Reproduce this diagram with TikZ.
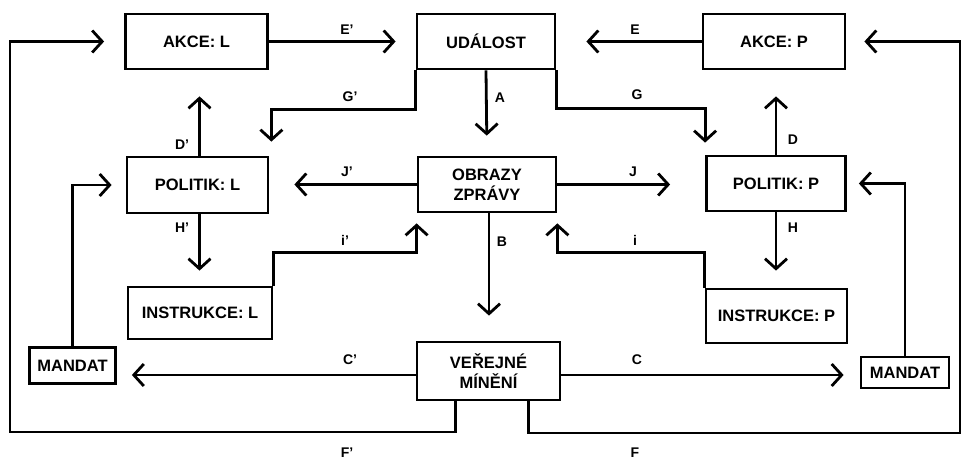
\documentclass[tikz,border=0pt]{standalone}
\usepackage{fontspec}
\setmainfont{Liberation Sans}
\usetikzlibrary{arrows.meta}

\begin{document}
\begin{tikzpicture}[x=1pt, y=-1pt, line width=2.8pt,
  box/.style={draw, minimum width=142pt, minimum height=55pt, inner sep=2pt,
    align=center, font=\bfseries\fontsize{16.5}{20}\selectfont},
  smallbox/.style={draw, inner sep=2pt, minimum width=86pt, minimum height=36pt,
    font=\bfseries\fontsize{16.5}{20}\selectfont},
  lbl/.style={font=\bfseries\fontsize{14}{16}\selectfont},
  arr/.style={-{Straight Barb[length=10pt, width=22pt, line width=2.8pt]}}]
\useasboundingbox (0,0) rectangle (962,460);

% boxes
\node[box] (akceL) at (196.5,41.5) {AKCE: L};
\node[box, minimum width=138pt] (udalost) at (486,41.5) {UDÁLOST};
\node[box] (akceP) at (774,41.5) {AKCE: P};
\node[box, minimum width=141pt, minimum height=56pt] (politikL) at (197.5,185) {POLITIK: L};
\node[box, minimum width=138pt] (obrazy) at (487,184.5) {OBRAZY\\ZPRÁVY};
\node[box, minimum width=139pt] (politikP) at (776,183.5) {POLITIK: P};
\node[box, minimum width=144pt, minimum height=52pt] (instrL) at (200,313) {INSTRUKCE: L};
\node[box, minimum width=141pt, minimum height=54pt] (instrP) at (776.5,316) {INSTRUKCE: P};
\node[box, minimum width=143pt, minimum height=58pt] (verejne) at (488.5,371) {VEŘEJNÉ\\MÍNĚNÍ};
\node[smallbox] (mandatL) at (72.5,365.5) {MANDAT};
\node[smallbox, minimum width=88pt, minimum height=31pt] (mandatP) at (905,372.5) {MANDAT};

\coordinate (railL) at (10,432);
\coordinate (railR) at (960,433);

% connectors
\draw[arr, shorten >=20pt] (akceL.east) -- (udalost.west);
\draw[arr, shorten >=30pt] (akceP.west) -- (udalost.east);
\draw[arr, shorten >=20pt] (udalost.south) -- (obrazy.north);
\draw[arr, shorten >=14pt] (udalost.south west) -- ++(0,39) -| ([xshift=2pt]politikL.north east);
\draw[arr, shorten >=12pt] (udalost.south east) -- ++(0,38) -| (politikP.north west);
\draw[arr, shorten >=26pt] ([xshift=2pt]politikL.north) -- ([xshift=2pt]politikL.north |- akceL.south);
\draw[arr, shorten >=26pt] (politikP.north) -- (politikP.north |- akceP.south);
\draw[arr, shorten >=25pt] (obrazy.west) -- (obrazy.west -| politikL.east);
\draw[arr, shorten >=35pt] (obrazy.east) -- (obrazy.east -| politikP.west);
\draw[arr, shorten >=15pt] ([xshift=2pt]politikL.south) -- ([xshift=2pt]politikL.south |- instrL.north);
\draw[arr, shorten >=17pt] (politikP.south) -- (politikP.south |- instrP.north);
\draw[arr, shorten >=10pt] (instrL.north east) -- ++(0,-33) -| (obrazy.south west);
\draw[arr, shorten >=10pt] (instrP.north west) -- ++(0,-35) -| (obrazy.south east);
\draw[arr, shorten >=25pt] ([xshift=2pt]obrazy.south) -- ([xshift=2pt]obrazy.south |- verejne.north);
\draw[arr, shorten >=15pt] ([yshift=-4pt]verejne.west) -- ([yshift=-4pt]verejne.west -| mandatL.east);
\draw[arr, shorten >=16pt] ([yshift=-4pt]verejne.east) -- ([yshift=-4pt]verejne.east -| mandatP.west);
\draw[arr, shorten >=14pt] (mandatL.north) |- (politikL.west);
\draw[arr, shorten >=12pt] (mandatP.north) |- (politikP.east);
\draw[arr, shorten >=20pt] ([xshift=-33pt]verejne.south) |- (railL) |- (akceL.west);
\draw[arr, shorten >=18pt] ([xshift=40pt]verejne.south) |- (railR) |- (akceP.east);

% labels
\node[lbl] (lEp) at (347,30) {E'};
\node[lbl] (lE) at (635,30) {E};
\node[lbl] (lGp) at (350,97) {G'};
\node[lbl] (lG) at (637,95) {G};
\node[lbl] (lA) at (500,98) {A};
\node[lbl] (lDp) at (182,145) {D'};
\node[lbl] (lD) at (793,140) {D};
\node[lbl] (lJp) at (347,172) {J'};
\node[lbl] (lJ) at (633,172) {J};
\node[lbl] (lHp) at (182,228) {H'};
\node[lbl] (lH) at (793,228) {H};
\node[lbl] (lip) at (345,240) {i'};
\node[lbl] (li) at (635,240) {i};
\node[lbl] (lB) at (502,242) {B};
\node[lbl] (lCp) at (350,360) {C'};
\node[lbl] (lC) at (637,360) {C};
\node[lbl] (lFp) at (347,453) {F'};
\node[lbl] (lF) at (635,453) {F};
\end{tikzpicture}
\end{document}
